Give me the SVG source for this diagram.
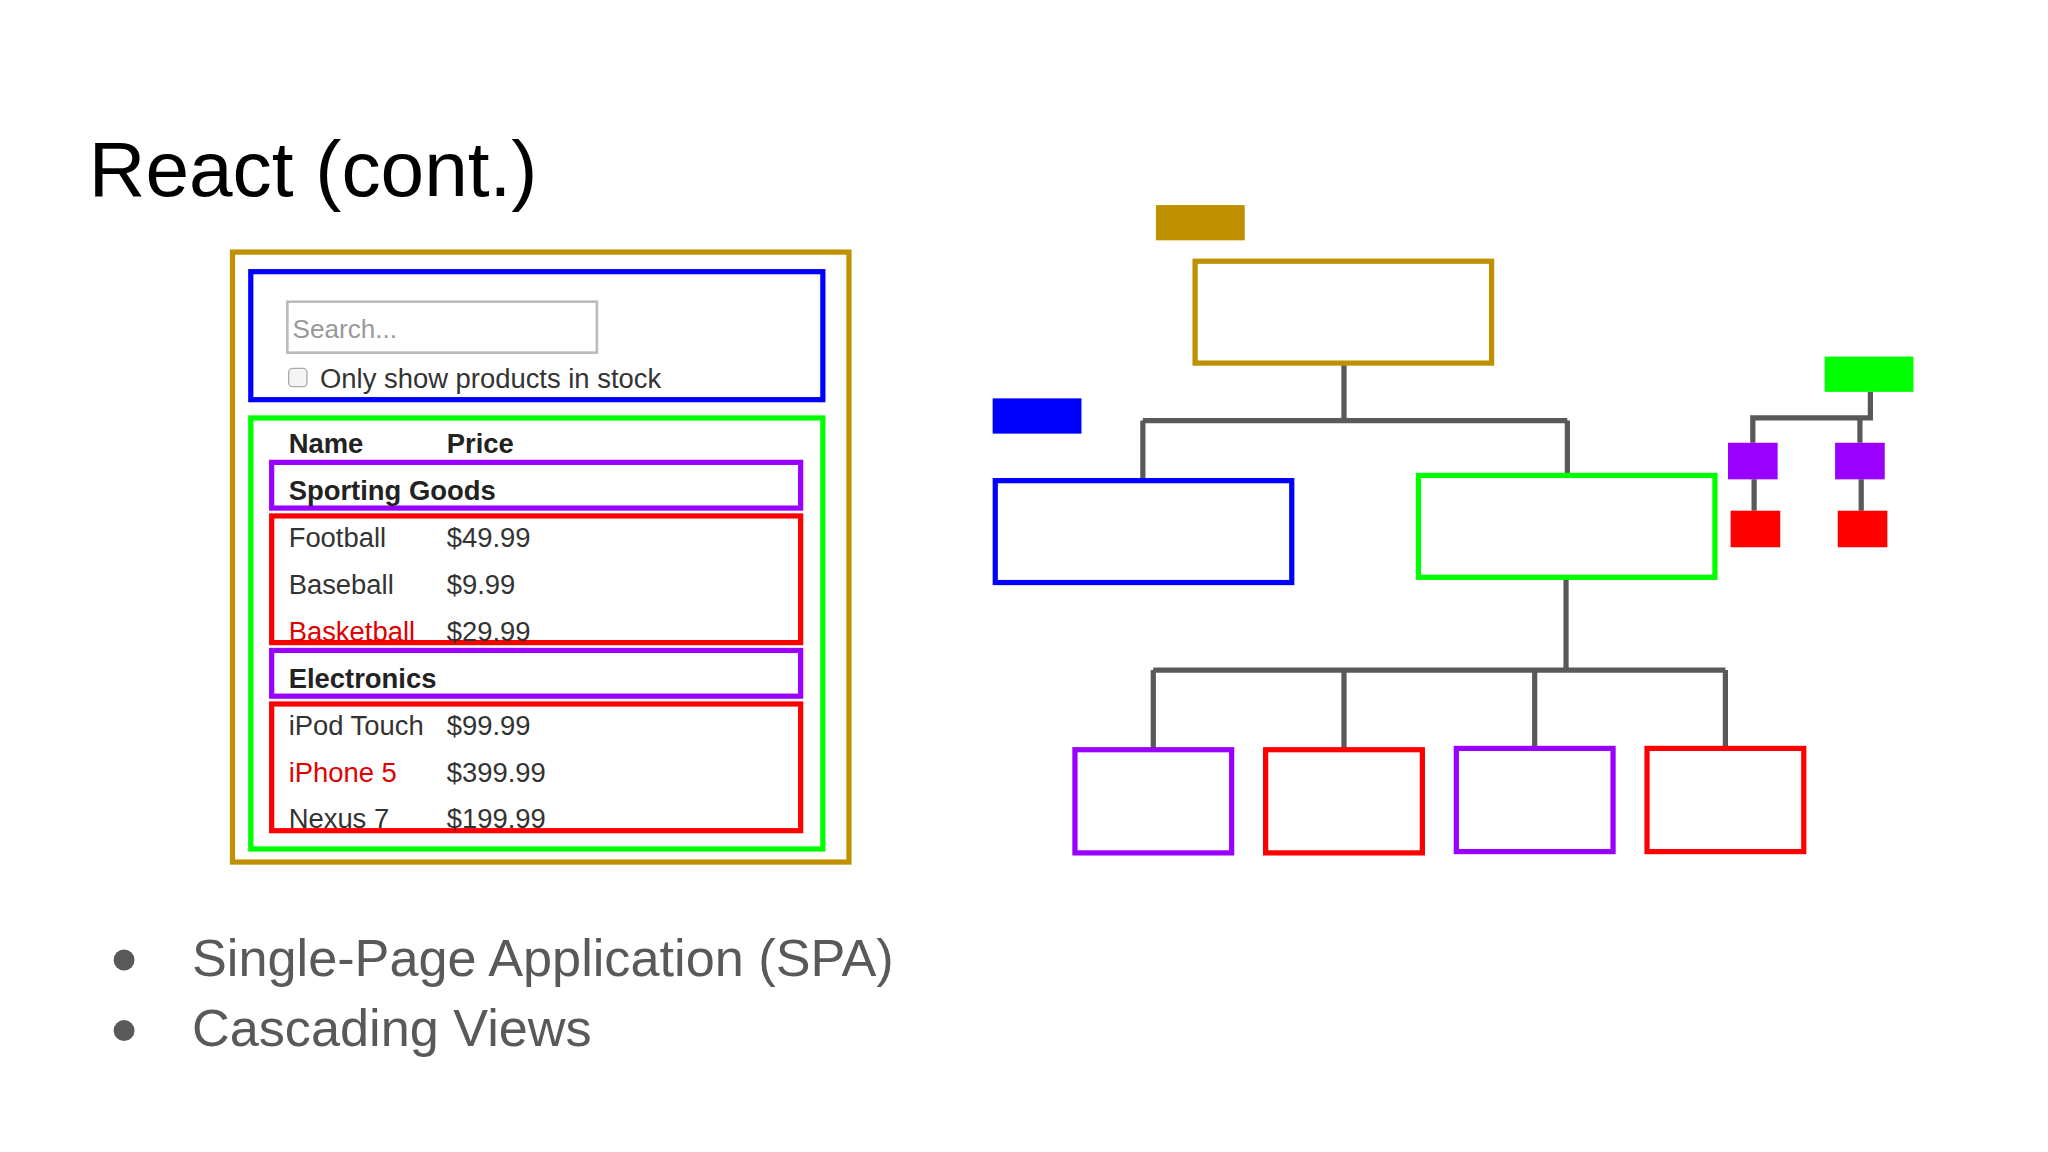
<svg xmlns="http://www.w3.org/2000/svg" width="2048" height="1152" viewBox="0 0 2048 1152">
<style>
text{font-family:"Liberation Sans",Arial,sans-serif}
.t{font-size:21px;fill:#333}
.b{font-weight:bold;fill:#222}
.r{fill:#e00000}
.box{fill:none;stroke-width:4}
.ln{fill:none;stroke:#595959;stroke-width:4}
.bl{font-size:40px;fill:#595959}
</style>
<rect width="2048" height="1152" fill="#fff"/>
<g transform="scale(1.30612)">
<text x="68" y="150" font-size="60" fill="#000">React (cont.)</text>
<g id="mockup">
<rect class="box" x="178" y="193" width="472" height="467" stroke="#BF9000"/>
<rect class="box" x="192" y="208" width="438" height="98" stroke="#0000FF"/>
<rect x="220" y="231" width="237" height="39" fill="#fff" stroke="#bbb" stroke-width="2"/>
<text x="224" y="259" font-size="20" fill="#999">Search...</text>
<rect x="221" y="282" width="14" height="14" rx="3" fill="#f4f4f4" stroke="#aaa"/>
<text class="t" x="245" y="297">Only show products in stock</text>
<rect class="box" x="192" y="320" width="438" height="330" stroke="#00FF00"/>
<text class="t b" x="221" y="347">Name</text>
<text class="t b" x="342" y="347">Price</text>
<rect class="box" x="208" y="354" width="405" height="35" stroke="#9900FF"/>
<text class="t b" x="221" y="383">Sporting Goods</text>
<rect class="box" x="208" y="395" width="405" height="97" stroke="#FF0000"/>
<text class="t" x="221" y="419">Football</text><text class="t" x="342" y="419">$49.99</text>
<text class="t" x="221" y="455">Baseball</text><text class="t" x="342" y="455">$9.99</text>
<text class="t r" x="221" y="491">Basketball</text><text class="t" x="342" y="491">$29.99</text>
<rect class="box" x="208" y="498" width="405" height="35" stroke="#9900FF"/>
<text class="t b" x="221" y="527">Electronics</text>
<rect class="box" x="208" y="539" width="405" height="97" stroke="#FF0000"/>
<text class="t" x="221" y="563">iPod Touch</text><text class="t" x="342" y="563">$99.99</text>
<text class="t r" x="221" y="599">iPhone 5</text><text class="t" x="342" y="599">$399.99</text>
<text class="t" x="221" y="634">Nexus 7</text><text class="t" x="342" y="634">$199.99</text>
</g>
<g id="connectors">
<path class="ln" d="M1029 278V322M875 322H1200M875 322V368M1200 322V364"/>
<path class="ln" d="M1199 442V513M883 513H1321M883 513V574M1029 513V574M1175 513V573M1321 513V573"/>
<path class="ln" d="M1432 300V320H1342V339M1424 320V339M1343 367V391M1425 367V391"/>
</g>
<g id="n-root"><rect x="885" y="157" width="68" height="27" fill="#BF9000"/><rect class="box" x="915" y="200" width="227" height="78" stroke="#BF9000"/></g>
<g id="n-blue"><rect x="760" y="305" width="68" height="27" fill="#0000FF"/><rect class="box" x="762" y="368" width="227" height="78" stroke="#0000FF"/></g>
<g id="n-green"><rect class="box" x="1086" y="364" width="227" height="78" stroke="#00FF00"/></g>
<g id="n-c1"><rect class="box" x="823" y="574" width="120" height="79" stroke="#9900FF"/></g>
<g id="n-c2"><rect class="box" x="969" y="574" width="120" height="79" stroke="#FF0000"/></g>
<g id="n-c3"><rect class="box" x="1115" y="573" width="120" height="79" stroke="#9900FF"/></g>
<g id="n-c4"><rect class="box" x="1261" y="573" width="120" height="79" stroke="#FF0000"/></g>
<g id="legend">
<rect x="1397" y="273" width="68" height="27" fill="#00FF00"/>
<rect x="1323" y="339" width="38" height="28" fill="#9900FF"/>
<rect x="1405" y="339" width="38" height="28" fill="#9900FF"/>
<rect x="1325" y="391" width="38" height="28" fill="#FF0000"/>
<rect x="1407" y="391" width="38" height="28" fill="#FF0000"/>
</g>
<circle cx="95" cy="735" r="8" fill="#595959"/>
<text class="bl" x="147" y="747">Single-Page Application (SPA)</text>
<circle cx="95" cy="789" r="8" fill="#595959"/>
<text class="bl" x="147" y="801">Cascading Views</text>
</g>
</svg>
